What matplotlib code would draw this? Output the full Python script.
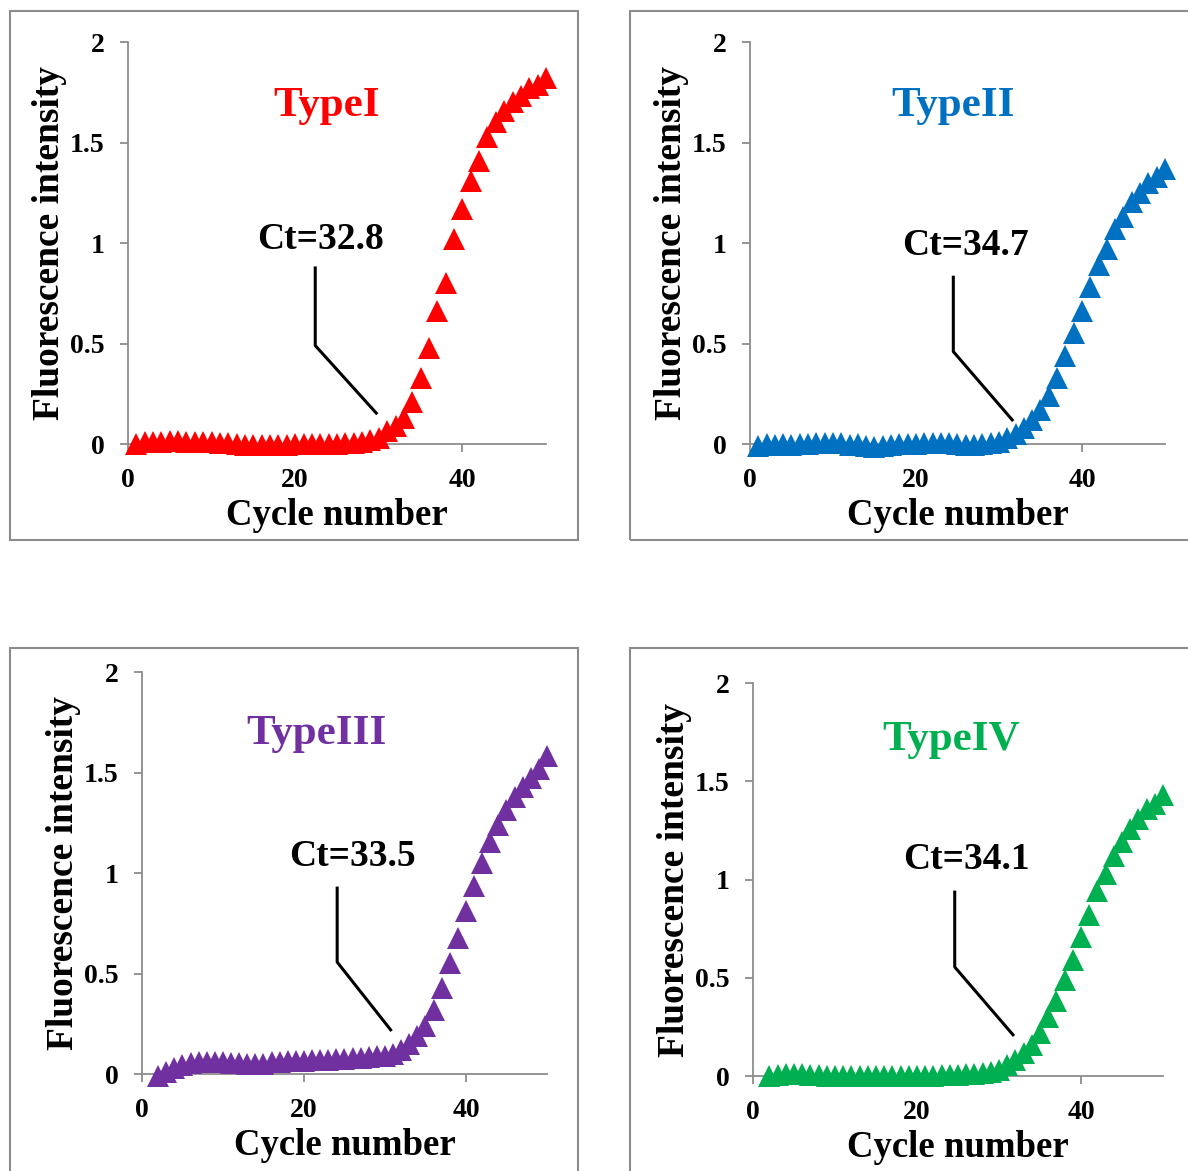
import matplotlib
matplotlib.use("Agg")
import matplotlib.pyplot as plt
from matplotlib.patches import Rectangle

# =====================================================
# DATOS
# =====================================================

cycles_1 = list(range(1, 51))
type1 = [0.00, 0.010, 0.012, 0.012, 0.015, 0.015, 0.012, 0.010, 0.010, 0.008,
         0.005, 0.003, 0.000, -0.005, -0.005, -0.005, -0.005, -0.004, -0.003, -0.002,
         -0.002, 0.000, 0.000, 0.000, 0.002, 0.004, 0.006, 0.010, 0.018, 0.030,
         0.065, 0.09, 0.13, 0.21, 0.33, 0.48, 0.66, 0.80, 1.02, 1.17,
         1.31, 1.41, 1.53, 1.60, 1.655, 1.70, 1.73, 1.77, 1.785, 1.82]

cycles_2 = list(range(1, 51))
type2 = [-0.010, 0.000, -0.005, 0.000, -0.005, 0.000, 0.000, 0.005, 0.005, 0.005,
         0.005, -0.005, 0.000, -0.010, -0.015, -0.010, -0.005, 0.000, 0.000, 0.000,
         0.005, 0.005, 0.005, 0.005, 0.000, -0.005, -0.005, 0.000, 0.005, 0.010,
         0.03, 0.05, 0.08, 0.12, 0.17, 0.24, 0.33, 0.44, 0.55, 0.66,
         0.78, 0.89, 0.97, 1.07, 1.13, 1.205, 1.25, 1.30, 1.33, 1.37]

cycles_3 = list(range(2, 51))
type3 = [-0.010, 0.010, 0.030, 0.045, 0.055, 0.060, 0.062, 0.060, 0.058,
         0.056, 0.054, 0.050, 0.048, 0.050, 0.058, 0.062, 0.064, 0.065, 0.066,
         0.068, 0.070, 0.072, 0.073, 0.075, 0.078, 0.080, 0.084, 0.088, 0.092,
         0.10, 0.12, 0.15, 0.19, 0.24, 0.32, 0.43, 0.55, 0.675, 0.81,
         0.935, 1.05, 1.155, 1.24, 1.315, 1.38, 1.43, 1.475, 1.52, 1.58]

cycles_4 = list(range(2, 51))
type4 = [0.000, 0.005, 0.008, 0.008, 0.008, 0.006, 0.004, 0.000, -0.002,
         -0.002, 0.000, 0.002, 0.002, 0.000, -0.002, -0.002, 0.000, 0.000, 0.000,
         0.002, 0.002, 0.003, 0.004, 0.006, 0.008, 0.010, 0.014, 0.020, 0.030,
         0.055, 0.08, 0.115, 0.16, 0.22, 0.30, 0.38, 0.49, 0.59, 0.71,
         0.82, 0.94, 1.03, 1.12, 1.19, 1.255, 1.31, 1.36, 1.385, 1.43]

names = ["TypeI", "TypeII", "TypeIII", "TypeIV"]
ct_labels = ["Ct=32.8", "Ct=34.7", "Ct=33.5", "Ct=34.1"]

y_ticks = [0, 0.5, 1, 1.5, 2]
y_tick_labels = ["0", "0.5", "1", "1.5", "2"]
x_ticks = [0, 20, 40]
x_tick_labels = ["0", "20", "40"]

# =====================================================
# ESTILO
# =====================================================

plt.rcParams["font.family"] = ["Liberation Serif", "DejaVu Serif"]
plt.rcParams["font.weight"] = "bold"

COLORS = ["#FF0000", "#0070C0", "#7030A0", "#00B050"]
AXIS_GREY = "#8c8c8c"

# [left, bottom, width, height] en fracción de figura
AX_POS = [
    [0.1077, 0.6208, 0.3519, 0.3433],
    [0.6313, 0.6208, 0.3493, 0.3433],
    [0.1195, 0.0828, 0.3409, 0.3433],
    [0.6338, 0.0811, 0.3452, 0.3356],
]

# cajas grises alrededor de cada panel
BOX_POS = [
    [0.0084, 0.5389, 0.4781, 0.4518],
    [0.5303, 0.5389, 0.4800, 0.4518],
    [0.0084, -0.0100, 0.4781, 0.4566],
    [0.5303, -0.0100, 0.4800, 0.4566],
]

# posición de título, texto Ct y línea guía (coordenadas de datos)
TITLE_XY = [(23.8, 1.68), (24.5, 1.68), (21.5, 1.69), (24.2, 1.71)]
CT_XY = [(23.0, 1.02), (26.0, 0.99), (26.0, 1.08), (26.0, 1.10)]
LEADER = [
    [(22.4, 0.876), (22.4, 0.49), (29.7, 0.154)],
    [(24.5, 0.83), (24.5, 0.46), (31.6, 0.12)],
    [(24.1, 0.925), (24.1, 0.557), (30.7, 0.22)],
    [(24.6, 0.936), (24.6, 0.555), (31.7, 0.21)],
]

# =====================================================
# FUNCIÓN DE PLOTEO
# =====================================================

def draw_panel(fig, idx, x, y):
    ax = fig.add_axes(AX_POS[idx])
    color = COLORS[idx]

    ax.plot(x, y, linestyle="none", marker="^", markersize=16,
            color=color, markeredgewidth=0, clip_on=False, zorder=3)

    ax.set_xlim(0, 50)
    ax.set_ylim(0, 2)
    ax.set_xticks(x_ticks)
    ax.set_xticklabels(x_tick_labels)
    ax.set_yticks(y_ticks)
    ax.set_yticklabels(y_tick_labels)

    for side in ["top", "right"]:
        ax.spines[side].set_visible(False)
    for side in ["left", "bottom"]:
        ax.spines[side].set_color(AXIS_GREY)
        ax.spines[side].set_linewidth(1.3)

    ax.tick_params(axis="both", direction="out", length=6, width=1.3,
                   color=AXIS_GREY, labelsize=20)
    ax.tick_params(axis="y", pad=11)
    ax.tick_params(axis="x", pad=11)
    for lab in ax.get_xticklabels() + ax.get_yticklabels():
        lab.set_fontweight("bold")

    ax.set_xlabel("Cycle number", fontsize=26.5, fontweight="bold", labelpad=4)
    ax.set_ylabel("Fluorescence intensity", fontsize=27, fontweight="bold",
                  labelpad=2)

    tx, ty = TITLE_XY[idx]
    ax.text(tx, ty, names[idx], color=color, fontsize=31, fontweight="bold",
            ha="center", va="center")

    cx, cy = CT_XY[idx]
    ax.text(cx, cy, ct_labels[idx], color="black", fontsize=27,
            fontweight="bold", ha="center", va="center")

    pts = LEADER[idx]
    ax.plot([p[0] for p in pts], [p[1] for p in pts], color="black",
            linewidth=2.2, zorder=4)

    return ax

# =====================================================
# EJECUCIÓN
# =====================================================

fig = plt.figure(figsize=(11.88, 11.71), dpi=100)

for b in BOX_POS:
    fig.patches.append(Rectangle((b[0], b[1]), b[2], b[3],
                                 transform=fig.transFigure, fill=False,
                                 edgecolor=AXIS_GREY, linewidth=1.5))

all_x = [cycles_1, cycles_2, cycles_3, cycles_4]
all_y = [type1, type2, type3, type4]

for i in range(4):
    draw_panel(fig, i, all_x[i], all_y[i])

fig.savefig("out.png", dpi=100, facecolor="white")
